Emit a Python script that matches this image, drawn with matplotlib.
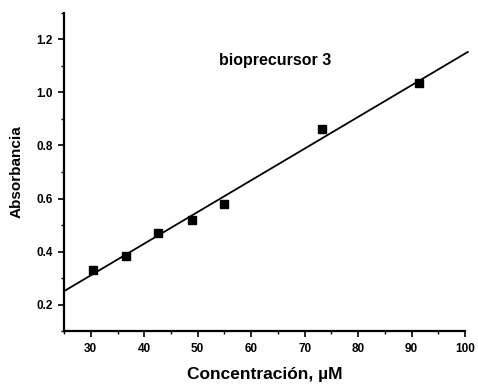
import matplotlib
matplotlib.use("Agg")
import matplotlib.pyplot as plt
from matplotlib.ticker import MultipleLocator
import numpy as np

# Calibration data: concentration (uM) vs absorbance
conc = [30.5, 36.5, 42.6, 48.9, 55.0, 73.3, 91.4]
absorb = [0.331, 0.385, 0.471, 0.521, 0.580, 0.861, 1.035]

plt.rcParams['font.family'] = ['Liberation Sans', 'DejaVu Sans']

fig = plt.figure(figsize=(4.78, 3.84), dpi=100)
fig.patch.set_facecolor('white')
ax = fig.add_axes([0.134, 0.137, 0.839, 0.830])

# Least-squares line over the full axis range
slope, intercept = np.polyfit(conc, absorb, 1)
xs = np.array([25, 100.5])
ax.plot(xs, slope * xs + intercept, color='black', lw=1.3, clip_on=False)
ax.plot(conc, absorb, 's', color='black', ms=5.5)

ax.set_xlim(25, 100)
ax.set_ylim(0.1, 1.3)
ax.xaxis.set_major_locator(MultipleLocator(10))
ax.xaxis.set_minor_locator(MultipleLocator(5))
ax.yaxis.set_major_locator(MultipleLocator(0.2))
ax.yaxis.set_minor_locator(MultipleLocator(0.1))
ax.set_yticks([0.2, 0.4, 0.6, 0.8, 1.0, 1.2])
ax.set_xticks(range(30, 101, 10))

for side in ('top', 'right'):
    ax.spines[side].set_visible(False)
for side in ('left', 'bottom'):
    ax.spines[side].set_linewidth(1.6)

ax.tick_params(which='major', direction='out', length=4, width=1.2,
               labelsize=8.5, pad=4)
ax.tick_params(which='minor', direction='out', length=2, width=1.0)
for lbl in ax.get_xticklabels() + ax.get_yticklabels():
    lbl.set_fontweight('bold')

ax.set_xlabel('Concentración, µM', fontsize=12.5, fontweight='bold', labelpad=9)
ax.set_ylabel('Absorbancia', fontsize=11, fontweight='bold', labelpad=9)
ax.text(0.527, 0.851, 'bioprecursor 3', transform=ax.transAxes,
        fontsize=11.5, fontweight='bold', ha='center', va='center')

fig.savefig('out.png', dpi=100, facecolor='white')
